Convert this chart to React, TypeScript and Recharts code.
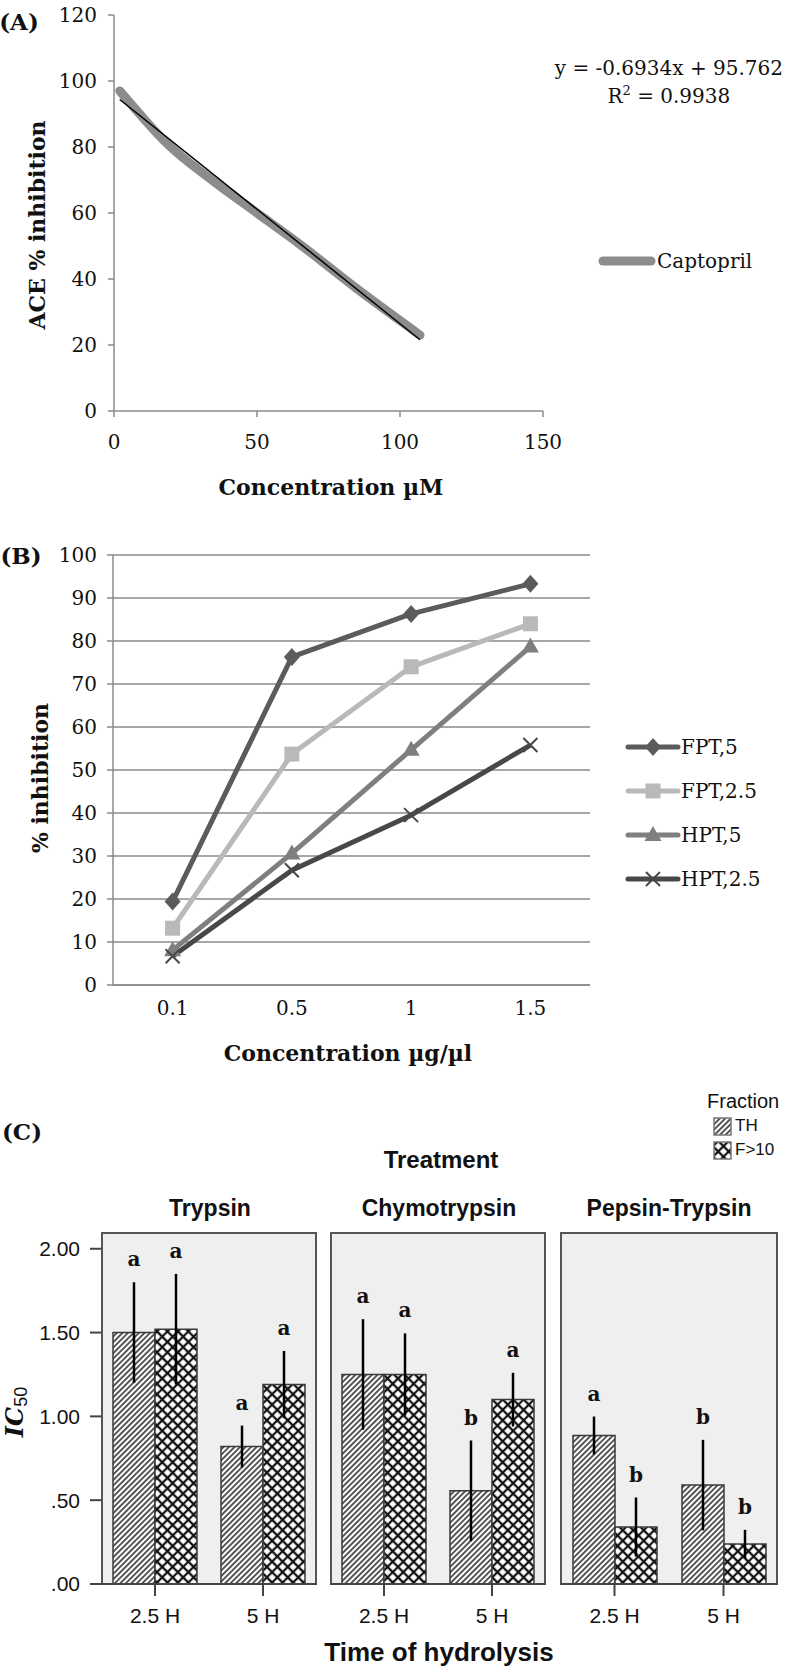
import React from "react";
import {
  Bar,
  BarChart,
  CartesianGrid,
  ErrorBar,
  LabelList,
  Legend,
  Line,
  LineChart,
  XAxis,
  YAxis,
} from "recharts";

// ---- (A) captopril ----
const captoprilConc = [2, 10, 18, 35, 50, 65, 85, 107];
const captoprilInhibition = [97, 89, 81.5, 69.5, 60, 50.5, 37, 23];
const trendConc = [2, 107];
const trendInhibition = [94.4, 21.6];
const ticksAx = [0, 50, 100, 150];
const ticksAy = [0, 20, 40, 60, 80, 100, 120];

// ---- (B) fractions ----
const concentrations = ["0.1", "0.5", "1", "1.5"];
const fpt5 = [19.4, 76.3, 86.3, 93.3];
const fpt25 = [13.2, 53.7, 74, 84];
const hpt5 = [8.1, 30.6, 54.7, 78.7];
const hpt25 = [6.7, 26.7, 39.5, 55.8];
const ticksBy = [0, 10, 20, 30, 40, 50, 60, 70, 80, 90, 100];

// ---- (C) IC50 ----
const treatments = ["Trypsin", "Chymotrypsin", "Pepsin-Trypsin"];
const hydrolysisTimes = ["2.5 H", "5 H"];
const thIC50 = [[1.5, 0.82], [1.25, 0.556], [0.886, 0.59]];
const thErr = [[0.3, 0.125], [0.33, 0.3], [0.113, 0.27]];
const f10IC50 = [[1.52, 1.19], [1.25, 1.1], [0.34, 0.238]];
const f10Err = [[0.33, 0.2], [0.245, 0.16], [0.176, 0.085]];
const thLetters = [["a", "a"], ["a", "b"], ["a", "b"]];
const f10Letters = [["a", "a"], ["a", "a"], ["b", "b"]];
const ticksCy = [0, 0.5, 1, 1.5, 2];

const SERIF = "'DejaVu Serif', serif";
const SANS = "'Liberation Sans', Arial, sans-serif";
const AXIS_GRAY = "#8a8a8a";
const C_PLOT_H = 352;
const C_MAX = 2.1;

const captoprilData = captoprilConc.map((x, i) => ({ x, y: captoprilInhibition[i] }));
const trendData = trendConc.map((x, i) => ({ x, y: trendInhibition[i] }));

const seriesB = [
  { name: "FPT,5", values: fpt5, color: "#5b5b5b", shape: "diamond" },
  { name: "FPT,2.5", values: fpt25, color: "#b9b9b9", shape: "square" },
  { name: "HPT,5", values: hpt5, color: "#7f7f7f", shape: "triangle" },
  { name: "HPT,2.5", values: hpt25, color: "#484848", shape: "x" },
];
const dataB = concentrations.map((conc, i) => {
  const row: Record<string, any> = { conc };
  seriesB.forEach((s) => (row[s.name] = s.values[i]));
  return row;
});

const facetData = (t: number) =>
  hydrolysisTimes.map((time, i) => ({
    time,
    th: thIC50[t][i],
    f10: f10IC50[t][i],
    thErr: thErr[t][i],
    f10Err: f10Err[t][i],
    thTag: thLetters[t][i] + "|" + thErr[t][i],
    f10Tag: f10Letters[t][i] + "|" + f10Err[t][i],
  }));

const Txt = ({ x, y, rotate, style, children }: any) => (
  <div
    style={{
      position: "absolute",
      left: x,
      top: y,
      transform: `translate(-50%, -50%)${rotate ? " rotate(-90deg)" : ""}`,
      whiteSpace: "nowrap",
      lineHeight: 1,
      ...style,
    }}
  >
    {children}
  </div>
);

function Marker({ cx, cy, shape, color }: any) {
  if (shape === "diamond")
    return <polygon points={`${cx},${cy - 9} ${cx + 8},${cy} ${cx},${cy + 9} ${cx - 8},${cy}`} fill={color} />;
  if (shape === "square") return <rect x={cx - 7.5} y={cy - 7.5} width={15} height={15} fill={color} />;
  if (shape === "triangle")
    return <polygon points={`${cx},${cy - 9} ${cx + 8.5},${cy + 6} ${cx - 8.5},${cy + 6}`} fill={color} />;
  return (
    <g stroke={color} strokeWidth={2}>
      <line x1={cx - 7} y1={cy - 7} x2={cx + 7} y2={cy + 7} />
      <line x1={cx - 7} y1={cy + 7} x2={cx + 7} y2={cy - 7} />
    </g>
  );
}

const LegendA = () => (
  <div style={{ display: "flex", alignItems: "center" }}>
    <svg width={58} height={16}>
      <line x1={5} y1={8} x2={53} y2={8} stroke="#8c8c8c" strokeWidth={9} strokeLinecap="round" />
    </svg>
    <span style={{ fontFamily: SERIF, fontSize: 20, color: "#111", marginLeft: 1 }}>Captopril</span>
  </div>
);

const LegendB = () => (
  <div>
    {seriesB.map((s) => (
      <div key={s.name} style={{ display: "flex", alignItems: "center", height: 44 }}>
        <svg width={56} height={22}>
          <line x1={3} y1={11} x2={53} y2={11} stroke={s.color} strokeWidth={5} strokeLinecap="round" />
          <Marker cx={28} cy={11} shape={s.shape} color={s.color} />
        </svg>
        <span style={{ fontFamily: SERIF, fontSize: 20, color: "#111" }}>{s.name}</span>
      </div>
    ))}
  </div>
);

const LetterLabel = (props: any) => {
  const vb = props.viewBox ?? props;
  const { x, y, width } = vb;
  const [letter, err] = String(props.value).split("|");
  const top = y - (Number(err) * C_PLOT_H) / C_MAX;
  return (
    <text x={x + width / 2} y={top - 16} textAnchor="middle" fontFamily={SERIF} fontWeight="bold" fontSize={20} fill="#111">
      {letter}
    </text>
  );
};

const fmtIC50 = (v: number) => {
  const s = v.toFixed(2);
  return v < 1 ? s.slice(1) : s;
};

function PanelA() {
  const tick = { fill: "#111", fontSize: 20, fontFamily: SERIF };
  return (
    <>
      <div style={{ position: "absolute", left: 0, top: 0 }}>
        <LineChart width={786} height={500} margin={{ top: 15, right: 243, bottom: 59, left: 0 }}>
          <XAxis
            type="number"
            dataKey="x"
            domain={[0, 150]}
            ticks={ticksAx}
            height={30}
            tickSize={6}
            tickMargin={18}
            axisLine={{ stroke: AXIS_GRAY, strokeWidth: 1.5 }}
            tickLine={{ stroke: AXIS_GRAY, strokeWidth: 1.5 }}
            tick={tick}
          />
          <YAxis
            type="number"
            domain={[0, 120]}
            ticks={ticksAy}
            width={114}
            tickSize={6}
            tickMargin={11}
            axisLine={{ stroke: AXIS_GRAY, strokeWidth: 1.5 }}
            tickLine={{ stroke: AXIS_GRAY, strokeWidth: 1.5 }}
            tick={tick}
          />
          <Line
            data={captoprilData}
            dataKey="y"
            name="Captopril"
            type="monotone"
            stroke="#8c8c8c"
            strokeWidth={9}
            strokeLinecap="round"
            dot={false}
            isAnimationActive={false}
          />
          <Line
            data={trendData}
            dataKey="y"
            name="trend"
            type="linear"
            stroke="#000"
            strokeWidth={1.5}
            dot={false}
            legendType="none"
            isAnimationActive={false}
          />
          <Legend
            layout="vertical"
            align="center"
            verticalAlign="middle"
            wrapperStyle={{ left: 598, top: 249, width: 180 }}
            content={LegendA}
          />
        </LineChart>
      </div>
      <Txt x={19} y={21} style={{ fontFamily: SERIF, fontWeight: "bold", fontSize: 23 }}>(A)</Txt>
      <Txt x={37} y={225} rotate style={{ fontFamily: SERIF, fontWeight: "bold", fontSize: 22 }}>ACE % inhibition</Txt>
      <Txt x={331} y={487} style={{ fontFamily: SERIF, fontWeight: "bold", fontSize: 22 }}>Concentration µM</Txt>
      <div
        style={{
          position: "absolute",
          right: 3,
          top: 54,
          textAlign: "center",
          fontFamily: SERIF,
          fontSize: 20,
          lineHeight: "28px",
          whiteSpace: "nowrap",
        }}
      >
        <div>y = -0.6934x + 95.762</div>
        <div>
          R<sup style={{ fontSize: 13, lineHeight: 0 }}>2</sup> = 0.9938
        </div>
      </div>
    </>
  );
}

function PanelB() {
  const tick = { fill: "#111", fontSize: 20, fontFamily: SERIF };
  return (
    <>
      <div style={{ position: "absolute", left: 0, top: 500 }}>
        <LineChart width={786} height={560} data={dataB} margin={{ top: 55, right: 196, bottom: 45, left: 0 }}>
          <CartesianGrid vertical={false} stroke={AXIS_GRAY} strokeWidth={1.5} />
          <XAxis
            dataKey="conc"
            padding={{ left: 59.6, right: 59.6 }}
            height={30}
            tickLine={false}
            tickSize={0}
            tickMargin={16}
            axisLine={{ stroke: AXIS_GRAY, strokeWidth: 1.5 }}
            tick={tick}
          />
          <YAxis
            type="number"
            domain={[0, 100]}
            ticks={ticksBy}
            width={113}
            tickSize={6}
            tickMargin={10}
            axisLine={{ stroke: AXIS_GRAY, strokeWidth: 1.5 }}
            tickLine={{ stroke: AXIS_GRAY, strokeWidth: 1.5 }}
            tick={tick}
          />
          {seriesB.map((s) => (
            <Line
              key={s.name}
              dataKey={s.name}
              type="linear"
              stroke={s.color}
              strokeWidth={5}
              strokeLinejoin="round"
              dot={(p: any) => <Marker key={`${s.name}-${p.index}`} cx={p.cx} cy={p.cy} shape={s.shape} color={s.color} />}
              activeDot={false}
              isAnimationActive={false}
            />
          ))}
          <Legend
            layout="vertical"
            align="center"
            verticalAlign="middle"
            wrapperStyle={{ left: 625, top: 225, width: 160 }}
            content={LegendB}
          />
        </LineChart>
      </div>
      <Txt x={21} y={555} style={{ fontFamily: SERIF, fontWeight: "bold", fontSize: 23 }}>(B)</Txt>
      <Txt x={40} y={778} rotate style={{ fontFamily: SERIF, fontWeight: "bold", fontSize: 22 }}>% inhibition</Txt>
      <Txt x={348} y={1053} style={{ fontFamily: SERIF, fontWeight: "bold", fontSize: 22 }}>Concentration µg/µl</Txt>
    </>
  );
}

const facetBoxes = [
  { left: 101, width: 216, titleX: 210 },
  { left: 330, width: 216, titleX: 439 },
  { left: 560, width: 218, titleX: 669 },
];

function Facet({ t }: { t: number }) {
  const box = facetBoxes[t];
  const first = t === 0;
  const chartLeft = first ? 0 : box.left;
  const chartWidth = first ? box.left + box.width : box.width;
  return (
    <>
      <div
        style={{
          position: "absolute",
          left: box.left,
          top: 1232,
          width: box.width,
          height: C_PLOT_H + 1,
          boxSizing: "border-box",
          border: "2px solid #555",
          background: "#efefef",
        }}
      />
      <div style={{ position: "absolute", left: chartLeft, top: 1232 }}>
        <BarChart
          width={chartWidth}
          height={C_PLOT_H + 56}
          data={facetData(t)}
          margin={{ top: 0, right: 0, bottom: 0, left: 0 }}
          barGap={0}
        >
          <XAxis
            dataKey="time"
            height={56}
            tickSize={12}
            tickMargin={12}
            axisLine={{ stroke: "#444", strokeWidth: 2 }}
            tickLine={{ stroke: "#444", strokeWidth: 2 }}
            tick={{ fill: "#111", fontSize: 21, fontFamily: SANS }}
          />
          <YAxis
            type="number"
            domain={[0, C_MAX]}
            ticks={ticksCy}
            hide={!first}
            width={101}
            tickSize={11}
            tickMargin={10}
            tickFormatter={fmtIC50}
            axisLine={false}
            tickLine={{ stroke: "#444", strokeWidth: 2 }}
            tick={{ fill: "#111", fontSize: 21, fontFamily: SANS }}
          />
          <Bar dataKey="th" barSize={42} fill="url(#hatchTH)" stroke="#3a3a3a" strokeWidth={1.5} isAnimationActive={false}>
            <ErrorBar dataKey="thErr" width={0} stroke="#000" strokeWidth={2.5} direction="y" />
            <LabelList dataKey="thTag" content={LetterLabel} />
          </Bar>
          <Bar dataKey="f10" barSize={42} fill="url(#crossF10)" stroke="#3a3a3a" strokeWidth={1.5} isAnimationActive={false}>
            <ErrorBar dataKey="f10Err" width={0} stroke="#000" strokeWidth={2.5} direction="y" />
            <LabelList dataKey="f10Tag" content={LetterLabel} />
          </Bar>
        </BarChart>
      </div>
      <Txt x={box.titleX} y={1208} style={{ fontFamily: SANS, fontWeight: "bold", fontSize: 23 }}>
        {treatments[t]}
      </Txt>
    </>
  );
}

const Swatch = ({ fill }: { fill: string }) => (
  <svg width={19} height={19} style={{ display: "block" }}>
    <rect x={1} y={1} width={17} height={17} fill={fill} stroke="#777" strokeWidth={1.5} />
  </svg>
);

function PanelC() {
  return (
    <>
      <Txt x={22} y={1131} style={{ fontFamily: SERIF, fontWeight: "bold", fontSize: 23 }}>(C)</Txt>
      <Txt x={441} y={1160} style={{ fontFamily: SANS, fontWeight: "bold", fontSize: 24 }}>Treatment</Txt>
      {treatments.map((_, t) => (
        <Facet key={t} t={t} />
      ))}
      <Txt x={15} y={1412} rotate style={{ color: "#111" }}>
        <span style={{ fontFamily: SERIF, fontWeight: "bold", fontStyle: "italic", fontSize: 24 }}>IC</span>
        <span style={{ fontFamily: SANS, fontSize: 18, position: "relative", top: 4 }}>50</span>
      </Txt>
      <Txt x={439} y={1652} style={{ fontFamily: SANS, fontWeight: "bold", fontSize: 26 }}>Time of hydrolysis</Txt>
      <div style={{ position: "absolute", left: 707, top: 1090, fontFamily: SANS, color: "#111" }}>
        <div style={{ fontSize: 20, height: 24 }}>Fraction</div>
        <div style={{ display: "flex", alignItems: "center", height: 24, marginLeft: 6 }}>
          <Swatch fill="url(#hatchTH)" />
          <span style={{ fontSize: 17, marginLeft: 3 }}>TH</span>
        </div>
        <div style={{ display: "flex", alignItems: "center", height: 24, marginLeft: 6 }}>
          <Swatch fill="url(#crossF10)" />
          <span style={{ fontSize: 17, marginLeft: 3 }}>F&gt;10</span>
        </div>
      </div>
    </>
  );
}

const PatternDefs = () => (
  <svg width={0} height={0} style={{ position: "absolute" }}>
    <defs>
      <pattern id="hatchTH" patternUnits="userSpaceOnUse" width={3.9} height={3.9} patternTransform="rotate(45)">
        <rect width={3.9} height={3.9} fill="#fff" />
        <line x1={1.95} y1={0} x2={1.95} y2={3.9} stroke="#111" strokeWidth={1.4} />
      </pattern>
      <pattern id="crossF10" patternUnits="userSpaceOnUse" width={7.4} height={7.4} patternTransform="rotate(45)">
        <rect width={7.4} height={7.4} fill="#fff" />
        <path d="M3.7 0 V7.4 M0 3.7 H7.4" stroke="#111" strokeWidth={2.2} />
      </pattern>
    </defs>
  </svg>
);

export default function App() {
  return (
    <div
      style={{
        position: "absolute",
        left: 0,
        top: 0,
        width: 786,
        height: 1670,
        background: "#fff",
        overflow: "hidden",
        color: "#111",
      }}
    >
      <PatternDefs />
      <PanelA />
      <PanelB />
      <PanelC />
    </div>
  );
}
